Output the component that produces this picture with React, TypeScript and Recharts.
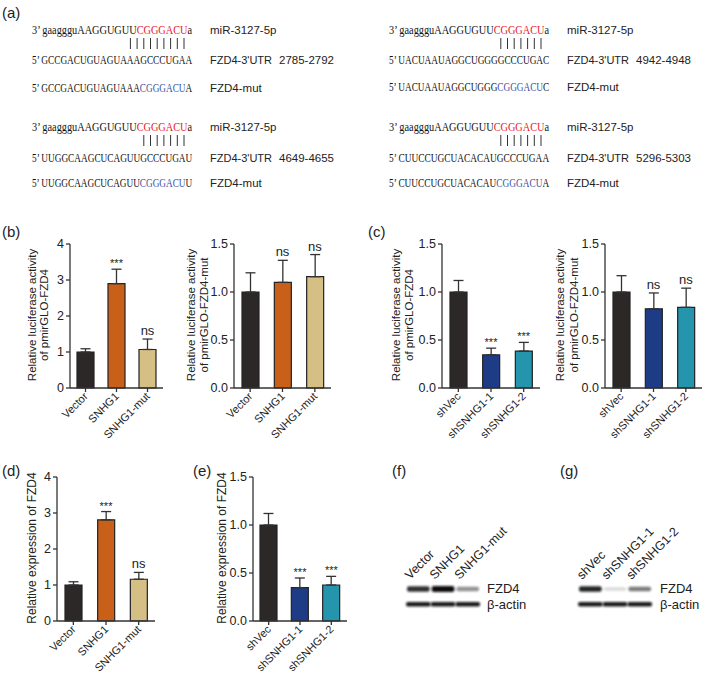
import React from 'react';
import { ComposedChart, Bar, Cell, ErrorBar, Line, LabelList, XAxis, YAxis } from 'recharts';

// bar colours
const DARK = '#2d2828';
const ORANGE = '#c8601a';
const TAN = '#d6bf84';
const NAVY = '#1e3c86';
const TEAL = '#2595ad';

const overCats = ['Vector', 'SNHG1', 'SNHG1-mut'];
const knockCats = ['shVec', 'shSNHG1-1', 'shSNHG1-2'];
const overColors = [DARK, ORANGE, TAN];
const knockColors = [DARK, NAVY, TEAL];

const ticks4 = [0, 1, 2, 3, 4];
const ticks15 = [0, 0.5, 1.0, 1.5];

// (b) luciferase, overexpression
const bLucValues = [1.0, 2.9, 1.07];
const bLucErrors = [0.09, 0.4, 0.29];
const bLucSig = ['', '***', 'ns'];
const bMutValues = [1.0, 1.1, 1.16];
const bMutErrors = [0.2, 0.23, 0.23];
const bMutSig = ['', 'ns', 'ns'];

// (c) luciferase, knockdown
const cLucValues = [1.0, 0.345, 0.385];
const cLucErrors = [0.12, 0.07, 0.09];
const cLucSig = ['', '***', '***'];
const cMutValues = [1.0, 0.825, 0.84];
const cMutErrors = [0.17, 0.165, 0.2];
const cMutSig = ['', 'ns', 'ns'];

// (d) / (e) expression
const dExpValues = [1.0, 2.81, 1.16];
const dExpErrors = [0.09, 0.23, 0.19];
const dExpSig = ['', '***', 'ns'];
const eExpValues = [1.0, 0.348, 0.375];
const eExpErrors = [0.12, 0.1, 0.09];
const eExpSig = ['', '***', '***'];

// (f) / (g) western blot band intensities
const fzd4BandsF = [0.85, 1.0, 0.45];
const actinBandsF = [0.95, 0.95, 0.95];
const fzd4BandsG = [0.9, 0.15, 0.55];
const actinBandsG = [0.95, 0.95, 0.95];

// (a) sequence pairs
const seqBlocks = [
  { mir: ['3’ gaaggguAAGGUGUU', 'CGGGACU', 'a'], utr: '5’ GCCGACUGUAGUAAAGCCCUGAA', mut: ['5’ GCCGACUGUAGUAAA', 'CGGGACU', 'A'], site: '2785-2792', pairs: 9 },
  { mir: ['3’ gaaggguAAGGUGUU', 'CGGGACU', 'a'], utr: '5’ UACUAAUAGGCUGGGGCCCUGAC', mut: ['5’ UACUAAUAGGCUGGG', 'CGGGACU', 'C'], site: '4942-4948', pairs: 7 },
  { mir: ['3’ gaaggguAAGGUGUU', 'CGGGACU', 'a'], utr: '5’ UUGGCAAGCUCAGUUGCCCUGAU', mut: ['5’ UUGGCAAGCUCAGUU', 'CGGGACU', 'U'], site: '4649-4655', pairs: 7 },
  { mir: ['3’ gaaggguAAGGUGUU', 'CGGGACU', 'a'], utr: '5’ CUUCCUGCUACACAUGCCCUGAA', mut: ['5’ CUUCCUGCUACACAU', 'CGGGACU', 'A'], site: '5296-5303', pairs: 7 },
];
const seqPos = [
  { x: 32, y: 34, dy2: 30, dy3: 58 },
  { x: 389, y: 34, dy2: 30, dy3: 57 },
  { x: 32, y: 131, dy2: 31, dy3: 56 },
  { x: 389, y: 131, dy2: 31, dy3: 56 },
];

const FONT = '"Liberation Sans", Arial, sans-serif';
const SERIF = '"Liberation Serif", "Times New Roman", serif';
const SEQ_SIZE = 12.5;
const SEQ_W = 161;
const YW = 34;
const MT = 14;
const MR = 6;
const XH = 72;

// natural width of a sequence line, used to squeeze it to the reference width
let measureCtx: CanvasRenderingContext2D | null = null;
function seqScale(text: string) {
  if (!measureCtx) {
    measureCtx = document.createElement('canvas').getContext('2d');
  }
  if (!measureCtx) return 0.82;
  measureCtx.font = `${SEQ_SIZE}px "Liberation Serif"`;
  const w = measureCtx.measureText(text).width;
  return w > 0 ? SEQ_W / w : 0.82;
}

function SeqText({ x, y, parts, color }: any) {
  const s = seqScale(parts.join(''));
  return (
    <text transform={`translate(${x},${y}) scale(${s},1)`} fontFamily={SERIF} fontSize={SEQ_SIZE} fill="#111">
      {parts[0]}
      {parts.length > 1 && <tspan fill={color}>{parts[1]}</tspan>}
      {parts.length > 2 && parts[2]}
    </text>
  );
}

function RotTick(props: any) {
  const { x, y, payload } = props;
  return (
    <g transform={`translate(${x + 3},${y + 3})`}>
      <text textAnchor="end" transform="rotate(-45)" fontSize={11} fill="#222">
        {payload.value}
      </text>
    </g>
  );
}

function SigLabel(props: any) {
  const { x, y, value } = props;
  if (!value) return null;
  const stars = value === '***';
  return (
    <text x={x} y={y - (stars ? 2 : 4)} textAnchor="middle" fontSize={stars ? 11 : 13} fill="#222">
      {value}
    </text>
  );
}

function BarPanel(props: any) {
  const { axisX, plotTop, plotBottom, plotRight, cats, values, errors, sig, colors, max, ticks, decimals } = props;
  const data = cats.map((c: string, i: number) => ({
    name: c,
    value: values[i],
    err: [0, errors[i]],
    top: values[i] + errors[i],
    sig: sig[i],
  }));
  const width = plotRight - axisX + YW + MR;
  const height = MT + (plotBottom - plotTop) + XH;
  return (
    <div style={{ position: 'absolute', left: axisX - YW, top: plotTop - MT, width, height }}>
      <ComposedChart width={width} height={height} data={data} margin={{ top: MT, right: MR, bottom: 0, left: 0 }}>
        <XAxis
          dataKey="name"
          height={XH}
          interval={0}
          tick={<RotTick />}
          tickSize={4}
          axisLine={{ stroke: '#333', strokeWidth: 1.3 }}
          tickLine={{ stroke: '#333', strokeWidth: 1.3 }}
        />
        <YAxis
          width={YW}
          domain={[0, max]}
          ticks={ticks}
          interval={0}
          tickSize={4}
          tickFormatter={(v: number) => v.toFixed(decimals)}
          tick={{ fontSize: 12.5, fill: '#222' }}
          axisLine={{ stroke: '#333', strokeWidth: 1.3 }}
          tickLine={{ stroke: '#333', strokeWidth: 1.3 }}
        />
        <Bar dataKey="value" barSize={17} stroke="#222" strokeWidth={1.2} isAnimationActive={false}>
          {data.map((d: any, i: number) => (
            <Cell key={d.name} fill={colors[i]} />
          ))}
          <ErrorBar dataKey="err" width={5} stroke="#333" strokeWidth={1.3} direction="y" />
        </Bar>
        <Line dataKey="top" stroke="none" dot={false} activeDot={false} legendType="none" isAnimationActive={false}>
          <LabelList dataKey="sig" content={<SigLabel />} />
        </Line>
      </ComposedChart>
    </div>
  );
}

function YLabel({ x, y, text, size = 11.5 }: any) {
  return (
    <text transform={`translate(${x},${y}) rotate(-90)`} textAnchor="middle" dy="0.35em" fontSize={size} fill="#222">
      {text}
    </text>
  );
}

function Blot({ x0, laneW, fzd, actin, lanes, labelX }: any) {
  return (
    <g>
      {lanes.map((l: string, i: number) => (
        <text key={l} transform={`translate(${x0 + 4 + i * laneW},580) rotate(-45)`} fontSize={12.5} fill="#222">
          {l}
        </text>
      ))}
      {fzd.map((v: number, i: number) => (
        <rect key={'f' + i} x={x0 + i * laneW + 1} y={589 - 1.5 - v * 1.5} width={laneW - 2} height={3 + v * 3} rx={2}
          fill="#111" opacity={v} filter="url(#blur)" />
      ))}
      {actin.map((v: number, i: number) => (
        <rect key={'a' + i} x={x0 + i * laneW} y={602} width={laneW} height={4.5} rx={2}
          fill="#111" opacity={v} filter="url(#blur)" />
      ))}
      <text x={labelX} y={593} fontSize={13} fill="#222">FZD4</text>
      <text x={labelX} y={609} fontSize={13} fill="#222">β-actin</text>
    </g>
  );
}

export default function App() {
  return (
    <div style={{ position: 'absolute', left: 0, top: 0, width: 705, height: 675, background: '#fff', fontFamily: FONT, overflow: 'hidden' }}>
      <BarPanel axisX={70} plotTop={244} plotBottom={388} plotRight={163} cats={overCats} values={bLucValues} errors={bLucErrors}
        sig={bLucSig} colors={overColors} max={4} ticks={ticks4} decimals={0} />
      <BarPanel axisX={234} plotTop={244} plotBottom={388} plotRight={331} cats={overCats} values={bMutValues} errors={bMutErrors}
        sig={bMutSig} colors={overColors} max={1.5} ticks={ticks15} decimals={1} />
      <BarPanel axisX={442} plotTop={244} plotBottom={388} plotRight={540} cats={knockCats} values={cLucValues} errors={cLucErrors}
        sig={cLucSig} colors={knockColors} max={1.5} ticks={ticks15} decimals={1} />
      <BarPanel axisX={605} plotTop={244} plotBottom={388} plotRight={702} cats={knockCats} values={cMutValues} errors={cMutErrors}
        sig={cMutSig} colors={knockColors} max={1.5} ticks={ticks15} decimals={1} />
      <BarPanel axisX={57} plotTop={477} plotBottom={621} plotRight={155} cats={overCats} values={dExpValues} errors={dExpErrors}
        sig={dExpSig} colors={overColors} max={4} ticks={ticks4} decimals={0} />
      <BarPanel axisX={253} plotTop={477} plotBottom={621} plotRight={347} cats={knockCats} values={eExpValues} errors={eExpErrors}
        sig={eExpSig} colors={knockColors} max={1.5} ticks={ticks15} decimals={1} />

      <svg width={705} height={675} style={{ position: 'absolute', left: 0, top: 0, pointerEvents: 'none' }} fontFamily={FONT}>
        <defs>
          <filter id="blur" x="-20%" y="-100%" width="140%" height="300%">
            <feGaussianBlur stdDeviation="0.9" />
          </filter>
        </defs>

        {/* panel letters */}
        <text x={2} y={18} fontSize={15} fill="#222">(a)</text>
        <text x={2} y={237} fontSize={15} fill="#222">(b)</text>
        <text x={368} y={237} fontSize={15} fill="#222">(c)</text>
        <text x={2} y={476} fontSize={15} fill="#222">(d)</text>
        <text x={193} y={476} fontSize={15} fill="#222">(e)</text>
        <text x={392} y={476} fontSize={15} fill="#222">(f)</text>
        <text x={560} y={476} fontSize={15} fill="#222">(g)</text>

        {/* (a) binding sites */}
        {seqBlocks.map((b, k) => {
          const p = seqPos[k];
          const barEnd = p.x + 152;
          const barStart = barEnd - (b.pairs - 1) * 6.7;
          return (
            <g key={k}>
              <SeqText x={p.x} y={p.y} parts={b.mir} color="#e8202a" />
              {Array.from({ length: b.pairs }, (_, j) => (
                <line key={j} x1={barStart + j * 6.7} x2={barStart + j * 6.7} y1={p.y + 4} y2={p.y + 15} stroke="#333" strokeWidth={1} />
              ))}
              <SeqText x={p.x} y={p.y + p.dy2} parts={[b.utr]} color="#111" />
              <SeqText x={p.x} y={p.y + p.dy3} parts={b.mut} color="#3b4fa0" />
              <text x={p.x + 178} y={p.y} fontSize={11.5} fill="#222">miR-3127-5p</text>
              <text x={p.x + 178} y={p.y + p.dy2} fontSize={11} fill="#222">FZD4-3'UTR</text>
              <text x={p.x + 247} y={p.y + p.dy2} fontSize={11.5} fill="#222">{b.site}</text>
              <text x={p.x + 178} y={p.y + p.dy3} fontSize={11.5} fill="#222">FZD4-mut</text>
            </g>
          );
        })}

        {/* y axis titles */}
        <YLabel x={32} y={315} text="Relative luciferase activity" />
        <YLabel x={44} y={315} text="of pmirGLO-FZD4" />
        <YLabel x={191} y={315} text="Relative luciferase activity" />
        <YLabel x={204} y={315} text="of pmirGLO-FZD4-mut" />
        <YLabel x={396} y={315} text="Relative luciferase activity" />
        <YLabel x={409} y={315} text="of pmirGLO-FZD4" />
        <YLabel x={560} y={315} text="Relative luciferase activity" />
        <YLabel x={574} y={315} text="of pmirGLO-FZD4-mut" />
        <YLabel x={32} y={548} text="Relative expression of FZD4" size={12} />
        <YLabel x={222} y={548} text="Relative expression of FZD4" size={12} />

        {/* (f) and (g) western blots */}
        <Blot x0={406} laneW={24.7} fzd={fzd4BandsF} actin={actinBandsF} lanes={overCats} labelX={487} />
        <Blot x0={578} laneW={24.7} fzd={fzd4BandsG} actin={actinBandsG} lanes={knockCats} labelX={660} />
      </svg>
    </div>
  );
}
